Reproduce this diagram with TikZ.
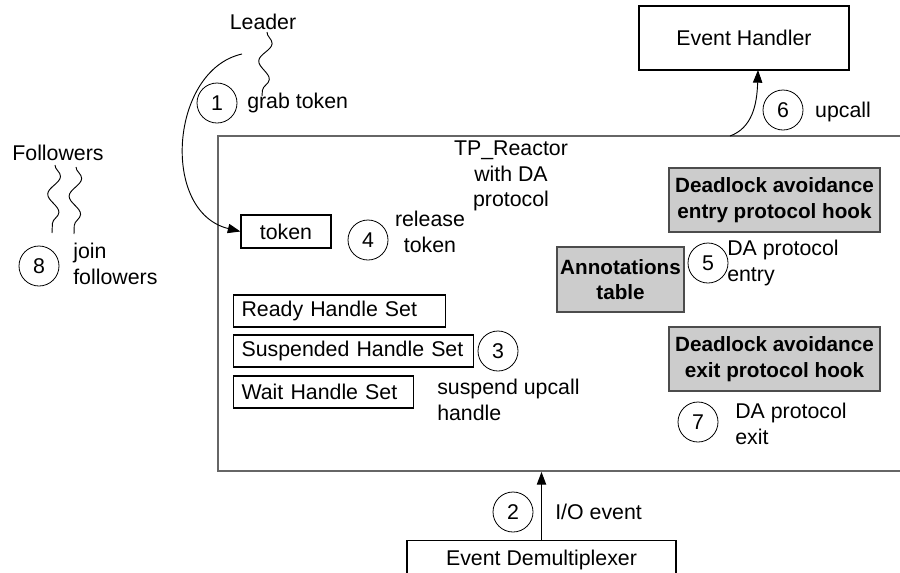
\documentclass[tikz,border=0pt]{standalone}
\usepackage{fontspec}
\setmainfont{Liberation Sans}
\usetikzlibrary{arrows.meta,decorations.pathmorphing}
\begin{document}
\begin{tikzpicture}[x=0.75pt,y=-0.75pt,
  every node/.style={font=\fontsize{16}{19}\selectfont},
  box/.style={draw,line width=0.8pt,inner sep=0},
  gbox/.style={draw=black!70,fill=black!20,line width=0.9pt,inner sep=0,align=center,font=\fontsize{15.5}{19}\selectfont\bfseries},
  num/.style={draw,circle,minimum size=30pt,inner sep=0,line width=0.6pt},
  lbl/.style={inner sep=0,align=left,anchor=west},
  wave/.style={decorate,decoration={snake,segment length=27pt,amplitude=4.5pt},line width=0.7pt},
  arr/.style={-{Triangle[length=9.5pt,width=7pt]},line width=0.7pt}]
\useasboundingbox (0,0) rectangle (900,572);

% main reactor box
\node[draw=black!60,line width=1.4pt,minimum width=515.25pt,minimum height=251.25pt,inner sep=0] (reactor) at (561.5,303.5) {};
\node[inner sep=0,align=center] (tp) at (511,176) {TP\_Reactor\\with DA\\protocol};

% boxes
\node[box,minimum width=157.5pt,minimum height=48pt] (eh) at (744,38) {Event Handler};
\node[box,minimum width=67.5pt,minimum height=24.75pt] (token) at (286,231.5) {token};
\node[box,minimum width=159pt,minimum height=24pt,anchor=west,text width=147pt,align=left] (ready) at (233,311) {Ready Handle Set};
\node[box,minimum width=180pt,minimum height=24pt,anchor=west,text width=168pt,align=left] (susp) at (233,351) {Suspended Handle Set};
\node[box,minimum width=135pt,minimum height=24pt,anchor=west,text width=123pt,align=left] (wait) at (233,392) {Wait Handle Set};
\node[box,minimum width=201.75pt,text height=18.5pt,text depth=30pt,anchor=north] (demux) at (541.5,540) {Event Demultiplexer};

\node[gbox,minimum width=158.25pt,minimum height=48pt] (entry) at (774.5,200) {Deadlock avoidance\\entry protocol hook};
\node[gbox,minimum width=95.25pt,minimum height=48.75pt] (annot) at (620.5,279.5) {Annotations\\table};
\node[gbox,minimum width=158.25pt,minimum height=48pt] (exit) at (774.5,359) {Deadlock avoidance\\exit protocol hook};

% numbered circles
\node[num] (n1) at (217,103) {1};
\node[num] (n2) at (513,512) {2};
\node[num] (n3) at (498,351) {3};
\node[num] (n4) at (368,240) {4};
\node[num] (n5) at (708,263) {5};
\node[num] (n6) at (783,110) {6};
\node[num] (n7) at (698,422) {7};
\node[num] (n8) at (39,266) {8};

% labels
\node[inner sep=0] (leader) at (263,22) {Leader};
\node[inner sep=0] (followers) at (58,153) {Followers};
\node[lbl] (l1) at (247,103) {grab token};
\node[lbl] (l2) at (555,512) {I/O event};
\node[lbl] (l3) at (437,400) {suspend upcall\\handle};
\node[inner sep=0,align=center] (l4) at (430,232) {release\\token};
\node[lbl] (l5) at (727,263) {DA protocol\\entry};
\node[inner sep=0] (l6) at (843,112) {upcall};
\node[lbl] (l7) at (735,424) {DA protocol\\exit};
\node[lbl] (l8) at (73,264) {join\\followers};

% threads (wavy lines)
\coordinate (lw0) at (267,32);
\coordinate (lw1) at (262,96);
\draw[wave] (lw0) -- (lw1);
\coordinate (fa0) at (55,165);
\coordinate (fa1) at (52,233);
\coordinate (fb0) at (76,167);
\coordinate (fb1) at (74,234);
\draw[wave] (fa0) -- (fa1);
\draw[wave] (fb0) -- (fb1);

% connectors
\coordinate (lc) at (242,54);
\draw[arr] (lc) .. controls (170,70) and (160,212) .. (token.west);
\coordinate (up0) at (730,136);
\coordinate (up1) at (758,70);
\draw[arr] (up0) .. controls (752,128) and (757,105) .. (up1);
\draw[arr] (demux.north) -- (demux.north |- reactor.south);
\end{tikzpicture}
\end{document}
